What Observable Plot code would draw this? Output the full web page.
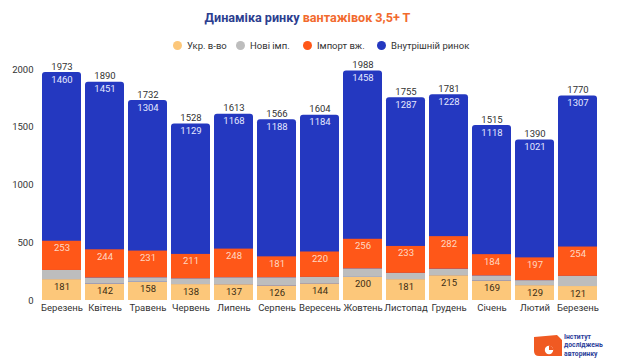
<!DOCTYPE html>
<html><head><meta charset="utf-8">
<script src="https://cdn.jsdelivr.net/npm/d3@7"></script>
<script src="https://cdn.jsdelivr.net/npm/@observablehq/plot@0.6"></script>
<style>
body{margin:0;background:#fff;font-family:Roboto,"Noto Sans",sans-serif;}
#wrap{position:relative;width:620px;height:362px;overflow:hidden;background:#fff;}
#title{position:absolute;top:10px;left:0;width:615px;text-align:center;font-weight:bold;font-size:12.6px;color:#2c3e8f;white-space:nowrap;}
#title span{color:#f26a2e;}
.leg{position:absolute;top:40px;font-size:9.5px;color:#333;white-space:nowrap;line-height:12px;}
.leg i{display:inline-block;width:9px;height:9px;border-radius:50%;margin-right:5px;vertical-align:-1px;}
#chart{position:absolute;top:58px;left:0;}
#logo{position:absolute;left:0;top:0;}
</style></head>
<body><div id="wrap">
<div id="title">Динаміка ринку <span>вантажівок 3,5+ Т</span></div>
<div id="legend"></div>
<div id="chart"></div>
<svg id="logo" width="620" height="362" style="pointer-events:none">
  <path d="M534,337 L557,335 L562,340 L562,356 L539,356 Q534,356 534,351 Z" fill="#f05a22"/>
  <circle cx="549" cy="350" r="4.2" fill="#fff"/>
  <path d="M549,350 L549,345.8 A4.2,4.2 0 0 1 553.2,350 Z" fill="#f05a22"/>
  <text x="564" y="338.5" font-size="6.8" font-weight="bold" fill="#2c3e9a" font-family="Roboto">Інститут</text>
  <text x="564" y="347" font-size="6.8" font-weight="bold" fill="#2c3e9a" font-family="Roboto">досліджень</text>
  <text x="564" y="355.5" font-size="6.8" font-weight="bold" fill="#2c3e9a" font-family="Roboto">авторинку</text>
</svg>
</div>
<script>
const months = ["Березень","Квітень","Травень","Червень","Липень","Серпень","Вересень","Жовтень","Листопад","Грудень","Січень","Лютий","Березень"];
const ukr        = [181,142,158,138,137,126,144,200,181,215,169,129,121];
const newImp     = [79,53,39,50,60,71,56,74,54,56,44,43,88];
const importUsed = [253,244,231,211,248,181,220,256,233,282,184,197,254];
const domestic   = [1460,1451,1304,1129,1168,1188,1184,1458,1287,1228,1118,1021,1307];
const totals     = [1973,1890,1732,1528,1613,1566,1604,1988,1755,1781,1515,1390,1770];
const seriesNames = ["Укр. в-во","Нові імп.","Імпорт вж.","Внутрішній ринок"];
const seriesColors = ["#fcc77a","#bdbdbd","#ff5718","#2438c0"];
const yTicks = [0,500,1000,1500,2000];

// legend
const legX = [173, 236, 303, 377];
const legend = document.getElementById("legend");
seriesNames.forEach((n,k)=>{
  const d = document.createElement("div");
  d.className = "leg";
  d.style.left = legX[k] + "px";
  d.innerHTML = `<i style="background:${seriesColors[k]}"></i>${n}`;
  legend.appendChild(d);
});

const rows = months.map((m,i)=>({i, m, ukr:ukr[i], newImp:newImp[i], importUsed:importUsed[i], domestic:domestic[i], total:totals[i]}));
const lower = [];
rows.forEach(r=>{
  lower.push({i:r.i, s:seriesNames[0], v:r.ukr});
  lower.push({i:r.i, s:seriesNames[1], v:r.newImp});
  lower.push({i:r.i, s:seriesNames[2], v:r.importUsed});
});

const chart = Plot.plot({
  width: 620,
  height: 304,
  marginLeft: 37,
  marginRight: 19,
  marginTop: 11,
  marginBottom: 62,
  style: {fontFamily: "Roboto, sans-serif", fontSize: "9.5px", color: "#333", background: "transparent"},
  x: {domain: rows.map(r=>r.i), padding: 0.1, axis: null, label: null},
  y: {domain: [0,2000], axis: null, label: null},
  color: {domain: seriesNames, range: seriesColors},
  marks: [
    Plot.barY(rows, {x:"i", y1:0, y2:"total", fill: seriesColors[3], rx: 3}),
    Plot.barY(lower, {x:"i", y:"v", fill:"s", order: seriesNames.slice(0,3)}),
    Plot.axisY({ticks: yTicks, tickSize: 0, tickPadding: 4, tickFormat: d=>String(d), fontSize: 9.5, fill: "#333", label: null}),
    Plot.axisX({tickSize: 0, tickPadding: 4, tickFormat: i=>months[i], fontSize: 9.5, fill: "#333", label: null}),
    Plot.text(rows, {x:"i", y:"total", text: d=>String(d.total), dy:-6, fill:"#333", fontSize: 9.5}),
    Plot.text(rows, {x:"i", y:"total", text: d=>String(d.domestic), dy:7, fill:"#e4e8ff", fontSize: 9.5}),
    Plot.text(rows, {x:"i", y: d=>d.ukr+d.newImp+d.importUsed, text: d=>String(d.importUsed), dy:7, fill:"#ffd8c2", fontSize: 9.5}),
    Plot.text(rows, {x:"i", y:"ukr", text: d=>String(d.ukr), dy:7, fill:"#3b2c14", fontSize: 9.5})
  ]
});
document.getElementById("chart").appendChild(chart);
</script>
</body></html>
